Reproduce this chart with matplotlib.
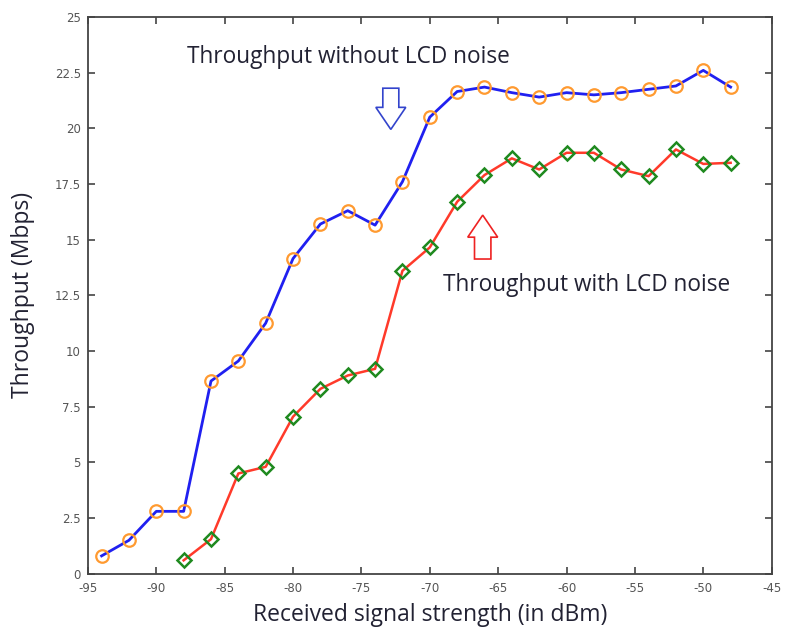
import matplotlib
matplotlib.use("Agg")
import matplotlib.pyplot as plt
from matplotlib.patches import FancyArrow

# received signal strength (dBm)
rss_no_lcd = [-94, -92, -90, -88, -86, -84, -82, -80, -78, -76, -74, -72,
              -70, -68, -66, -64, -62, -60, -58, -56, -54, -52, -50, -48]
tp_no_lcd = [0.8, 1.5, 2.8, 2.8, 8.65, 9.55, 11.25, 14.15, 15.7, 16.3, 15.65, 17.6,
             20.5, 21.65, 21.85, 21.6, 21.4, 21.6, 21.5, 21.6, 21.75, 21.9, 22.6, 21.85]

rss_lcd = [-88, -86, -84, -82, -80, -78, -76, -74, -72, -70, -68, -66,
           -64, -62, -60, -58, -56, -54, -52, -50, -48]
tp_lcd = [0.6, 1.55, 4.5, 4.8, 7.05, 8.3, 8.9, 9.2, 13.6, 14.65, 16.7, 17.9,
          18.65, 18.15, 18.9, 18.9, 18.15, 17.85, 19.05, 18.4, 18.45]

xticks = [-95, -90, -85, -80, -75, -70, -65, -60, -55, -50, -45]
yticks = [0, 2.5, 5, 7.5, 10, 12.5, 15, 17.5, 20, 22.5, 25]
ytick_labels = ["0", "2.5", "5", "7.5", "10", "12.5", "15", "17.5", "20", "22.5", "25"]

plt.rcParams['font.family'] = ['Open Sans', 'DejaVu Sans']

fig = plt.figure(figsize=(7.85, 6.27), dpi=100)
ax = fig.add_axes([0.112, 0.085, 0.871, 0.888])

ax.plot(rss_no_lcd, tp_no_lcd, color="#2020f0", linewidth=2, marker="o",
        markersize=9, markerfacecolor="none", markeredgecolor="#ff9a30",
        markeredgewidth=1.6)
ax.plot(rss_lcd, tp_lcd, color="#ff3a2a", linewidth=1.8, marker="D",
        markersize=7.5, markerfacecolor="none", markeredgecolor="#1f8a1f",
        markeredgewidth=1.8)

ax.set_xlim(-95, -45)
ax.set_ylim(0, 25)
ax.set_xticks(xticks)
ax.set_yticks(yticks)
ax.set_xticklabels([str(t) for t in xticks], family="DejaVu Sans")
ax.set_yticklabels(ytick_labels, family="DejaVu Sans")
ax.tick_params(direction="in", length=5, width=1.2, labelsize=8.5,
               labelcolor="#555555", color="#444444", top=True, right=True)
ax.tick_params(axis="x", pad=6)
ax.tick_params(axis="y", pad=5)
for s in ax.spines.values():
    s.set_color("#444444")
    s.set_linewidth(1.3)

ax.set_xlabel("Received signal strength (in dBm)", fontsize=16.5, color="#222233", labelpad=6)
ax.set_ylabel("Throughput (Mbps)", fontsize=16.5, color="#222233", labelpad=14)

ax.text(-87.76, 22.91, "Throughput without LCD noise", fontsize=16.3, color="#222233",
        va="baseline")
ax.text(-69.05, 12.69, "Throughput with LCD noise", fontsize=16.3, color="#222233",
        va="baseline")

# hollow block arrows
ax.add_patch(FancyArrow(-72.85, 21.8, 0, -1.85, width=1.17, head_width=2.19,
                        head_length=0.99, length_includes_head=True,
                        facecolor="white", edgecolor="#3344cc", linewidth=1.2))
ax.add_patch(FancyArrow(-66.13, 14.13, 0, 1.97, width=1.2, head_width=2.19,
                        head_length=0.99, length_includes_head=True,
                        facecolor="white", edgecolor="#ee2222", linewidth=1.2))

fig.savefig("out.png", dpi=100)
